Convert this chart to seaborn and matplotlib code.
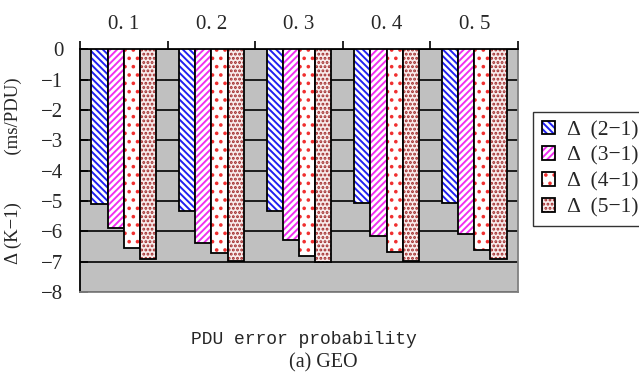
import matplotlib
matplotlib.use("Agg")
import matplotlib.pyplot as plt
import seaborn as sns
import pandas as pd
from matplotlib.colors import to_rgba

categories = ["0. 1", "0. 2", "0. 3", "0. 4", "0. 5"]
series = ["Δ  (2−1)", "Δ  (3−1)", "Δ  (4−1)", "Δ  (5−1)"]
d21 = [-5.09, -5.33, -5.33, -5.06, -5.06]
d31 = [-5.90, -6.38, -6.27, -6.17, -6.08]
d41 = [-6.54, -6.72, -6.81, -6.67, -6.62]
d51 = [-6.91, -6.99, -7.02, -6.99, -6.91]
yticks = [0, -1, -2, -3, -4, -5, -6, -7, -8]

rows = []
for s, vals in zip(series, [d21, d31, d41, d51]):
    for c, v in zip(categories, vals):
        rows.append({"cat": c, "series": s, "value": v})
df = pd.DataFrame(rows)

sns.set_style("white")
plt.rcParams["hatch.linewidth"] = 1.4
serif = ["Liberation Serif", "Noto Sans CJK SC", "DejaVu Sans"]

fig = plt.figure(figsize=(6.39, 3.73), dpi=100)
ax = fig.add_axes([80 / 639, 1 - 292 / 373, 438 / 639, 242.7 / 373])
ax.set_facecolor("#C0C0C0")

sns.barplot(data=df, x="cat", y="value", hue="series", order=categories,
            hue_order=series, width=0.74, ax=ax, legend=False, zorder=3)

styles = [
    ("white", "\\\\\\\\\\", "#2020F0"),
    ("white", "/////", "#F030F0"),
    ("white", "..", "#F03030"),
    ("#F8ECEC", "....", "#A02828"),
]
n = len(categories)
handles = []
for i, p in enumerate(ax.patches[: n * len(series)]):
    fc, h, hc = styles[i // n]
    p.set_facecolor(fc)
    p.set_edgecolor("black")
    p.set_linewidth(1.3)
    p.set_hatch(h)
    p._hatch_color = to_rgba(hc)
    if i % n == 0:
        handles.append(p)

ax.set_ylim(-8, 0)
ax.set_xlim(-0.5, 4.5)
ax.set_yticks(yticks)
ax.set_yticklabels([("−%d" % -t) if t < 0 else "0" for t in yticks],
                   fontsize=15, family=serif)
ax.yaxis.grid(True, color="black", linewidth=1.2, zorder=1)
ax.set_axisbelow(True)

ax.xaxis.tick_top()
ax.set_xticks([-0.5, 0.5, 1.5, 2.5, 3.5, 4.5])
ax.set_xticklabels([""] * 6)
ax.set_xticks(range(n), minor=True)
ax.set_xticklabels(categories, minor=True, fontsize=15, family=serif)
ax.tick_params(axis="x", which="major", direction="out", length=6, width=1.2, color="black", top=True)
ax.tick_params(axis="x", which="minor", length=0, pad=11, top=True, bottom=False)
ax.tick_params(axis="y", direction="in", length=6, width=1.2, color="black", left=True, pad=12)

for side in ["left", "top"]:
    ax.spines[side].set_color("black")
    ax.spines[side].set_linewidth(1.3)
for side in ["right", "bottom"]:
    ax.spines[side].set_color("#808080")
    ax.spines[side].set_linewidth(1.3)

ax.set_ylabel("Δ (K−1)          (ms/PDU)", fontsize=13.5, family=serif)
ax.yaxis.set_label_coords(-58 / 438, 0.5)
ax.xaxis.set_label_position("bottom")
ax.set_xlabel("PDU error probability", fontsize=13, family="Liberation Mono", labelpad=0)
ax.xaxis.set_label_coords(0.51, -(331 - 292) / 242.7)
fig.text(323 / 639, 1 - 363 / 373, "(a) GEO", ha="center", va="center",
         fontsize=14.5, family="Liberation Serif")

leg = fig.legend(handles, series, loc="upper left",
                 bbox_to_anchor=(533 / 639, 1 - 112 / 373),
                 prop={"family": serif, "size": 15.5}, frameon=True,
                 fancybox=False, handlelength=0.6, handleheight=0.6,
                 handletextpad=0.6, labelspacing=0.3, borderpad=0.4,
                 borderaxespad=0)
leg.get_frame().set_edgecolor("black")
leg.get_frame().set_linewidth(1.0)

fig.savefig("out.png", dpi=100)
